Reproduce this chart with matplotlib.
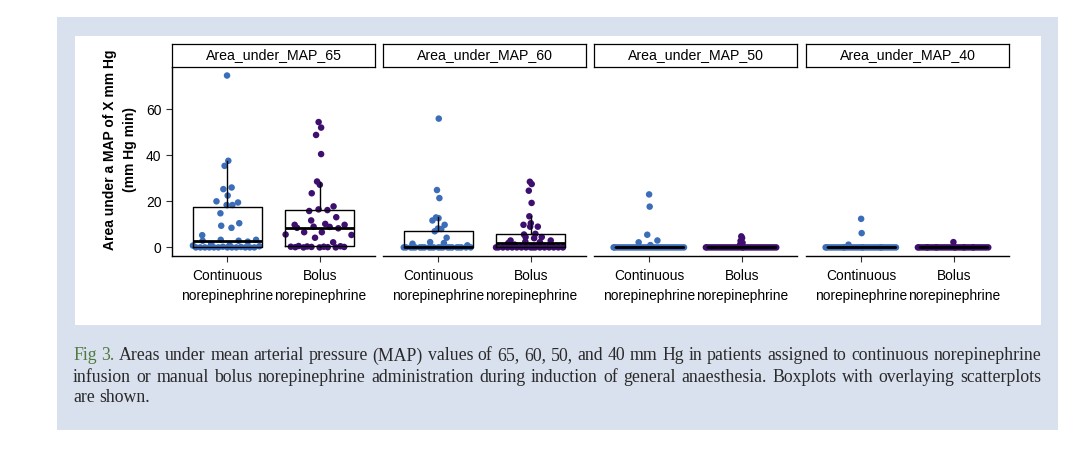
import matplotlib
matplotlib.use("Agg")
import matplotlib.pyplot as plt
from matplotlib.patches import Rectangle
import numpy as np

# values (mm Hg min)
facets = ["Area_under_MAP_65", "Area_under_MAP_60", "Area_under_MAP_50", "Area_under_MAP_40"]
groups = ["Continuous\nnorepinephrine", "Bolus\nnorepinephrine"]

cont_65 = [74.6, 37.6, 35.4, 26.0, 25.3, 22.5, 20.0, 19.5, 18.4, 18.4, 14.8, 10.5, 9.4, 8.5,
           5.3, 3.3, 3.3, 2.9, 2.9, 2.5, 1.5, 1.0, 0.8, 0.5, 0.3, 0.2,
           0, 0, 0, 0, 0, 0, 0, 0, 0, 0, 0, 0]
bolus_65 = [54.4, 52.0, 48.8, 40.5, 28.6, 27.2, 23.5, 17.8, 16.5, 16.2, 15.8, 13.1, 11.7, 10.2,
            9.8, 9.8, 9.0, 8.9, 8.5, 8.3, 6.6, 6.6, 5.6, 5.4, 4.2, 2.2,
            0.6, 0.5, 0.4, 0.3, 0.3, 0.2, 0.2, 0.1, 0.1, 0, 0, 0]
cont_60 = [55.9, 24.9, 21.4, 13.0, 12.7, 11.7, 9.8, 8.2, 8.0, 7.0, 4.2, 2.3, 1.9, 1.6, 0.9,
           0, 0, 0, 0, 0, 0, 0, 0, 0, 0, 0, 0, 0, 0, 0, 0, 0, 0, 0, 0, 0, 0]
bolus_60 = [28.5, 27.5, 24.6, 19.3, 13.5, 10.5, 9.8, 9.0, 9.0, 5.9, 5.6, 4.5, 4.5, 4.0, 3.0,
            3.0, 2.5, 2.3, 1.9, 1.5, 1.2,
            0, 0, 0, 0, 0, 0, 0, 0, 0, 0, 0, 0, 0, 0, 0, 0, 0]
cont_50 = [23.0, 17.7, 5.5, 3.0, 2.2, 1.0] + [0] * 32
bolus_50 = [4.8, 4.1, 2.8, 2.0, 1.2] + [0] * 33
cont_40 = [12.4, 6.2, 1.2] + [0] * 35
bolus_40 = [2.3] + [0] * 37

data = [(cont_65, bolus_65), (cont_60, bolus_60), (cont_50, bolus_50), (cont_40, bolus_40)]
colors = ["#3B6DB8", "#3E0F6E"]

caption = ("Fig 3. Areas under mean arterial pressure (MAP) values of 65, 60, 50, and 40 mm Hg in patients "
           "assigned to continuous norepinephrine|infusion or manual bolus norepinephrine administration "
           "during induction of general anaesthesia. Boxplots with overlaying scatterplots|are shown.")


def vdc(n, base=2):
    out = []
    for i in range(1, n + 1):
        v, denom, k = 0.0, 1.0, i
        while k:
            denom *= base
            k, r = divmod(k, base)
            v += r / denom
        out.append(v)
    return np.array(out)


def quasirandom(y, width=0.4):
    # offsets like ggbeeswarm::geom_quasirandom
    y = np.asarray(y, float)
    n = len(y)
    sd = y.std(ddof=1)
    q75, q25 = np.percentile(y, [75, 25])
    lo = min(sd, (q75 - q25) / 1.34)
    if lo == 0:
        lo = sd if sd > 0 else 1.0
    bw = 0.9 * lo * n ** (-0.2)
    dens = np.array([np.exp(-0.5 * ((v - y) / bw) ** 2).sum() for v in y])
    dens = dens / dens.max()
    ranks = np.argsort(np.argsort(y, kind="stable"), kind="stable")
    off = vdc(n)[ranks]
    return (off - 0.5) * 2 * width * dens


plt.rcParams["font.family"] = ["Liberation Sans", "DejaVu Sans"]

W, H = 1080, 450
fig = plt.figure(figsize=(W / 100, H / 100), dpi=100)
fig.patches.append(Rectangle((57 / W, 1 - 430 / H), 1001 / W, 413 / H, transform=fig.transFigure,
                             facecolor="#D9E1EE", edgecolor="none", zorder=-2))
fig.patches.append(Rectangle((75 / W, 1 - 325 / H), 966 / W, 289 / H, transform=fig.transFigure,
                             facecolor="white", edgecolor="none", zorder=-1))

lefts = [172, 383, 594, 806]
pw = 203
ylo, yhi = -3.73, 78.3
for i, (name, (c, b)) in enumerate(zip(facets, data)):
    ax = fig.add_axes([lefts[i] / W, 1 - 256 / H, pw / W, 189 / H])
    ax.patch.set_alpha(0)
    for j, vals in enumerate((c, b)):
        x = (j + 1) + quasirandom(vals)
        ax.scatter(x, vals, s=22, color=colors[j], edgecolors="none", zorder=2)
    ax.boxplot([c, b], positions=[1, 2], widths=0.75, showfliers=False, showcaps=False, whis=1.5,
               patch_artist=False,
               boxprops=dict(color="black", linewidth=1.0),
               whiskerprops=dict(color="black", linewidth=1.0),
               medianprops=dict(color="black", linewidth=2.0), zorder=3)
    ax.set_xlim(0.4, 2.6)
    ax.set_ylim(ylo, yhi)
    ax.set_xticks([1, 2])
    ax.set_xticklabels(groups, fontsize=9.9, linespacing=1.6)
    ax.set_yticks([0, 20, 40, 60])
    ax.tick_params(axis="both", length=4, width=0.8, color="#333333", labelcolor="black", labelsize=10)
    ax.tick_params(axis="x", pad=5, labelsize=9.9)
    for s in ["top", "right"]:
        ax.spines[s].set_visible(False)
    ax.spines["bottom"].set_linewidth(1.0)
    if i == 0:
        ax.spines["left"].set_linewidth(1.0)
    else:
        ax.spines["left"].set_visible(False)
        ax.tick_params(axis="y", left=False, labelleft=False)

    st = fig.add_axes([lefts[i] / W, 1 - 67 / H, pw / W, 23 / H])
    st.set_xticks([])
    st.set_yticks([])
    for s in st.spines.values():
        s.set_linewidth(0.9)
    st.text(0.5, 0.5, name, ha="center", va="center", fontsize=10.2, transform=st.transAxes)

fig.text(120 / W, 1 - 150 / H, "Area under a MAP of X mm Hg\n(mm Hg min)", rotation=90,
         ha="center", va="center", fontsize=10, fontweight="bold", linespacing=1.5)

# caption: fit the size to the first line, then justify word by word
renderer = fig.canvas.get_renderer()
cap_font = "Liberation Serif"
cap_x0, cap_x1 = 73, 1041
line_y = [356, 377, 397]
lines = caption.split("|")

probe = fig.text(0, 0, lines[0], fontsize=10, family=cap_font)
natural = probe.get_window_extent(renderer).width
probe.remove()
fs = 10 * (cap_x1 - cap_x0 - 6) / natural

sp = fig.text(0, 0, "a b", fontsize=fs, family=cap_font)
nsp = fig.text(0, 0, "ab", fontsize=fs, family=cap_font)
space = sp.get_window_extent(renderer).width - nsp.get_window_extent(renderer).width
sp.remove()
nsp.remove()

for li, line in enumerate(lines):
    words = line.split(" ")
    texts = []
    for wi, wd in enumerate(words):
        col = "#4E7A3E" if (li == 0 and wi < 2) else "#2A2A2A"
        t = fig.text(0, 1 - line_y[li] / H, wd, fontsize=fs, family=cap_font,
                     color=col, va="center", ha="left")
        texts.append(t)
    widths = [t.get_window_extent(renderer).width for t in texts]
    if li < len(lines) - 1 and len(words) > 1:
        gap = (cap_x1 - cap_x0 - sum(widths)) / (len(words) - 1)
    else:
        gap = space
    xpos = cap_x0
    for t, w in zip(texts, widths):
        t.set_x(xpos / W)
        xpos += w + gap

fig.savefig("out.png", dpi=100)
